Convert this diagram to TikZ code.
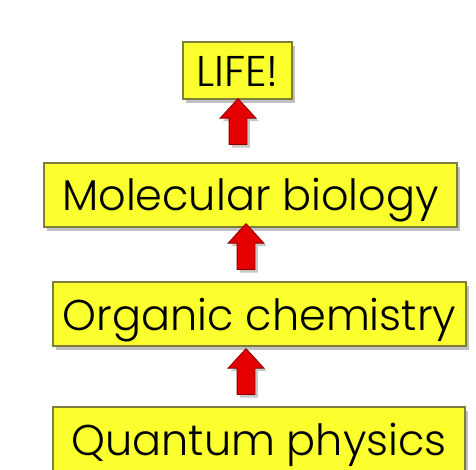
\documentclass[tikz,border=0pt]{standalone}
\usepackage{fontspec}
\setmainfont{Poppins Light}
\usetikzlibrary{shapes.arrows,shadows}
\definecolor{lvlfill}{RGB}{250,255,45}
\definecolor{lvledge}{RGB}{125,125,60}
\definecolor{upfill}{RGB}{228,0,0}
\definecolor{upedge}{RGB}{140,0,0}
\tikzset{lvl/.style={draw=lvledge, fill=lvlfill, line width=1.2pt, inner sep=0pt,
    font=\fontsize{43}{43}\selectfont, text height=32pt, text depth=0pt,
    drop shadow={shadow xshift=3pt, shadow yshift=-4pt, opacity=0.35, fill=black!70}},
  uparrow/.style={single arrow, shape border rotate=90, draw=upedge, fill=upfill,
    line width=0.8pt, inner sep=8.5pt, minimum height=46pt,
    single arrow head extend=9pt, single arrow tip angle=85, anchor=tip,
    drop shadow={shadow xshift=3pt, shadow yshift=-3pt, opacity=0.3, fill=black!70}}}

\begin{document}
\begin{tikzpicture}[x=1pt,y=-1pt]
  \useasboundingbox[fill=white] (0,0) rectangle (476,470);
  % the four levels, bottom one runs off the page
  \node[lvl, minimum width=109pt, minimum height=57pt] (life) at (237.5,70.5) {LIFE!};
  \node[lvl, minimum width=413pt, minimum height=64pt] (mol) at (250.5,195) {Molecular biology};
  \node[lvl, minimum width=413pt, minimum height=64pt] (org) at (259.5,314) {Organic chemistry};
  \node[lvl, minimum width=412pt, minimum height=64pt] (qua) at (259,439) {Quantum physics};
  % block arrows pointing up
  \node[uparrow] (a1) at (238,98) {};
  \node[uparrow] (a2) at (246,223) {};
  \node[uparrow] (a3) at (246,348) {};
\end{tikzpicture}
\end{document}
